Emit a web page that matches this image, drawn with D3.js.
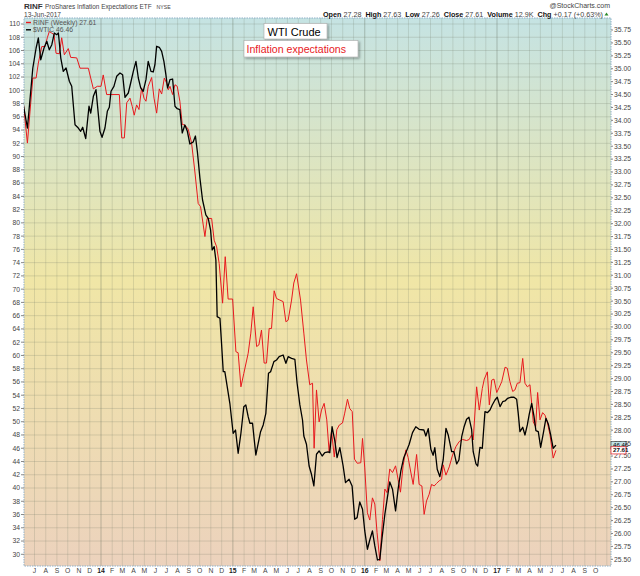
<!DOCTYPE html>
<html><head><meta charset="utf-8">
<script src="https://cdn.jsdelivr.net/npm/d3@7/dist/d3.min.js"></script>
<style>body{margin:0;background:#fff}svg{display:block;font-family:"Liberation Sans",Arial,sans-serif}</style>
</head><body>
<script>
// ---- data (dates as decimal years) ----
const wticDates = [
2013.411,2013.442,2013.483,2013.508,2013.525,2013.543,2013.568,2013.589,2013.608,2013.627,
2013.646,2013.664,2013.677,2013.695,2013.714,2013.735,2013.760,2013.778,2013.803,2013.828,
2013.846,2013.861,2013.884,2013.909,2013.922,2013.942,2013.962,2013.980,2013.992,2014.008,
2014.030,2014.048,2014.063,2014.076,2014.098,2014.119,2014.144,2014.164,2014.182,2014.207,
2014.225,2014.245,2014.265,2014.283,2014.301,2014.320,2014.341,2014.358,2014.379,2014.396,
2014.409,2014.422,2014.442,2014.460,2014.477,2014.492,2014.505,2014.523,2014.543,2014.561,
2014.578,2014.598,2014.616,2014.636,2014.654,2014.674,2014.699,2014.716,2014.731,2014.750,
2014.770,2014.795,2014.813,2014.831,2014.843,2014.858,2014.871,2014.881,2014.902,2014.914,
2014.927,2014.939,2014.957,2014.977,2015.002,2015.020,2015.040,2015.061,2015.083,2015.098,
2015.116,2015.129,2015.149,2015.174,2015.192,2015.210,2015.230,2015.250,2015.270,2015.286,
2015.311,2015.331,2015.351,2015.381,2015.402,2015.419,2015.445,2015.470,2015.487,2015.508,
2015.528,2015.538,2015.558,2015.578,2015.596,2015.614,2015.634,2015.654,2015.677,2015.697,
2015.722,2015.735,2015.752,2015.773,2015.790,2015.811,2015.836,2015.854,2015.881,2015.904,
2015.924,2015.942,2015.962,2015.983,2016.000,2016.020,2016.038,2016.058,2016.076,2016.096,
2016.114,2016.131,2016.152,2016.169,2016.189,2016.210,2016.233,2016.252,2016.273,2016.295,
2016.316,2016.336,2016.361,2016.386,2016.411,2016.447,2016.462,2016.480,2016.500,2016.517,
2016.530,2016.548,2016.568,2016.593,2016.614,2016.631,2016.657,2016.674,2016.695,2016.712,
2016.733,2016.750,2016.770,2016.788,2016.808,2016.820,2016.841,2016.854,2016.871,2016.889,
2016.909,2016.927,2016.947,2016.964,2016.985,2017.002,2017.023,2017.043,2017.061,2017.081,
2017.104,2017.129,2017.149,2017.161,2017.174,2017.195,2017.212,2017.230,2017.245,2017.263,
2017.280,2017.295,2017.313,2017.331,2017.351,2017.371,2017.389,2017.407,2017.426,2017.447];
const wticValues = [
97.83,94.31,103.36,106.38,107.89,104.61,106.38,107.39,106.12,106.88,
108.64,108.39,108.64,104.87,102.86,103.36,101.36,100.60,94.81,94.31,
93.81,94.42,92.70,97.59,96.57,99.09,100.09,96.32,93.81,92.91,
94.31,96.83,97.43,99.85,100.60,102.11,102.61,102.35,98.94,99.59,
101.10,102.86,104.37,101.85,100.35,99.85,101.60,104.37,102.86,102.76,
103.86,106.64,106.49,105.88,104.37,102.35,100.35,101.60,101.70,97.59,
97.22,97.07,93.56,94.76,93.86,91.90,92.20,93.10,90.69,86.77,
83.45,81.19,80.69,78.92,75.91,76.41,74.40,65.85,65.60,61.83,
57.55,57.55,55.29,52.78,48.26,48.75,45.24,48.26,52.27,52.53,
50.76,49.77,49.77,44.98,46.75,48.50,49.51,51.27,57.31,57.55,
59.06,59.31,59.81,60.07,58.82,59.81,59.57,59.42,55.80,52.53,
50.26,47.85,46.60,43.32,42.07,40.31,45.09,45.59,44.83,45.33,
45.44,45.33,49.25,47.10,44.58,46.08,43.32,40.81,41.32,40.31,
35.28,35.53,37.89,36.79,33.52,30.76,32.16,33.52,31.26,29.14,
29.25,32.51,36.04,38.30,40.91,39.81,36.54,39.81,42.57,44.58,
45.59,46.60,48.35,49.25,48.86,48.75,47.85,48.95,45.84,44.94,
46.08,42.83,41.71,44.23,49.01,48.00,45.48,45.48,43.63,44.23,
47.74,49.16,50.37,50.67,48.86,45.48,43.63,43.32,46.14,45.99,
51.52,51.36,51.77,52.53,53.28,53.69,52.27,53.02,53.13,53.54,
53.69,53.69,53.39,51.27,48.50,49.16,48.00,49.51,51.17,52.78,
50.87,48.65,48.50,46.14,48.26,50.52,49.66,48.00,45.99,46.46];
const rinfDates = [
2013.411,2013.442,2013.462,2013.483,2013.508,2013.525,2013.551,2013.576,2013.593,2013.608,
2013.627,2013.644,2013.659,2013.684,2013.702,2013.722,2013.752,2013.770,2013.816,2013.841,
2013.904,2013.942,2013.972,2014.000,2014.017,2014.043,2014.139,2014.157,2014.177,2014.195,
2014.220,2014.237,2014.252,2014.270,2014.288,2014.308,2014.326,2014.341,2014.358,2014.384,
2014.402,2014.422,2014.442,2014.460,2014.480,2014.498,2014.510,2014.523,2014.543,2014.561,
2014.578,2014.598,2014.616,2014.636,2014.661,2014.687,2014.712,2014.737,2014.755,2014.788,
2014.805,2014.839,2014.858,2014.877,2014.896,2014.922,2014.942,2014.964,2014.998,2015.023,
2015.040,2015.061,2015.083,2015.116,2015.136,2015.154,2015.180,2015.197,2015.217,2015.237,
2015.255,2015.275,2015.293,2015.313,2015.331,2015.356,2015.381,2015.402,2015.419,2015.445,
2015.462,2015.483,2015.513,2015.538,2015.558,2015.583,2015.604,2015.616,2015.634,2015.654,
2015.672,2015.692,2015.712,2015.730,2015.748,2015.769,2015.788,2015.807,2015.831,2015.848,
2015.869,2015.886,2015.905,2015.922,2015.943,2015.970,2015.983,2016.000,2016.020,2016.038,
2016.058,2016.076,2016.093,2016.114,2016.134,2016.152,2016.169,2016.189,2016.210,2016.233,
2016.252,2016.270,2016.290,2016.311,2016.328,2016.348,2016.366,2016.392,2016.411,2016.432,
2016.449,2016.467,2016.487,2016.505,2016.525,2016.543,2016.563,2016.581,2016.593,2016.614,
2016.639,2016.664,2016.689,2016.714,2016.740,2016.770,2016.790,2016.808,2016.820,2016.846,
2016.866,2016.889,2016.904,2016.927,2016.942,2016.960,2016.977,2016.998,2017.017,2017.036,
2017.061,2017.078,2017.098,2017.119,2017.136,2017.154,2017.174,2017.195,2017.212,2017.230,
2017.250,2017.263,2017.275,2017.293,2017.308,2017.326,2017.346,2017.364,2017.381,2017.402,
2017.426,2017.447];
const rinfValues = [
34.34,33.56,34.18,34.82,34.82,35.11,35.43,35.43,35.60,35.72,
35.69,35.66,35.30,35.29,35.60,35.27,35.39,35.22,35.21,35.01,
35.01,34.61,34.66,34.66,34.88,34.50,34.50,33.66,33.66,34.34,
34.43,34.27,34.10,34.30,34.21,34.63,34.43,34.37,34.66,34.83,
34.43,34.14,34.61,34.51,34.82,34.72,34.59,34.66,34.50,34.69,
34.66,34.37,33.92,33.91,33.83,33.56,33.00,32.39,32.33,31.75,
32.10,32.10,31.68,31.55,31.23,30.46,31.36,30.54,30.54,29.52,
29.50,28.84,29.10,29.49,29.88,30.39,29.62,29.65,29.94,29.30,
29.30,29.97,29.97,30.70,30.55,30.52,30.49,30.10,30.13,30.52,
30.85,31.03,30.52,29.88,29.36,28.88,28.91,27.65,28.78,28.16,
28.39,28.52,28.20,27.58,27.99,27.48,28.01,28.10,28.14,28.33,
28.60,28.42,28.36,27.44,27.36,27.37,27.84,27.27,26.40,26.26,
26.69,26.57,26.02,25.47,26.27,26.86,26.79,27.25,27.18,27.31,
27.05,26.80,27.31,27.62,27.47,27.19,26.95,27.53,26.95,26.92,
26.37,26.63,26.76,26.95,26.92,26.97,27.02,27.05,27.33,27.13,
27.29,27.52,27.68,27.78,27.82,27.80,27.82,27.91,27.81,28.84,
28.39,28.81,28.99,29.13,28.49,28.97,28.99,28.73,28.83,28.94,
29.22,29.20,28.94,28.75,28.78,28.91,28.92,29.39,28.91,28.84,
28.88,28.52,28.16,28.07,28.73,28.20,28.34,28.29,28.16,27.91,
27.46,27.61];
const leftTicks = [30,32,34,36,38,40,42,44,46,48,50,52,54,56,58,60,62,64,66,68,70,72,74,76,78,80,82,84,86,88,90,92,94,96,98,100,102,104,106,108,110];
const rightTicks = [25.50,25.75,26.00,26.25,26.50,26.75,27.00,27.25,27.50,27.75,28.00,28.25,28.50,28.75,29.00,29.25,29.50,29.75,30.00,30.25,30.50,30.75,31.00,31.25,31.50,31.75,32.00,32.25,32.50,32.75,33.00,33.25,33.50,33.75,34.00,34.25,34.50,34.75,35.00,35.25,35.50,35.75];
const monthLetters = ["J","F","M","A","M","J","J","A","S","O","N","D"];
const lastWtic = 46.46, lastRinf = 27.61;

const toDate = d => { const y = Math.floor(d); const s = new Date(y,0,1), e = new Date(y+1,0,1); return new Date(+s + (d - y) * (e - s)); };

const W = 640, H = 576;
const L = 24, R = 611, T = 18, B = 566;
const svg = d3.select("body").append("svg").attr("width", W).attr("height", H);

const x = d3.scaleTime().domain([new Date(2014,0,1), new Date(2017,0,1)]).range([101, 497]);
const yL = d3.scaleLinear().domain([30, 110]).range([554.3, 24]);
const yR = d3.scaleLinear().domain([25.5, 35.75]).range([559.3, 30]);

const defs = svg.append("defs");
const g = defs.append("linearGradient").attr("id","bg").attr("x1",0).attr("y1",0).attr("x2",0).attr("y2",1);
g.append("stop").attr("offset","0%").attr("stop-color","#c5e3e3");
g.append("stop").attr("offset","48%").attr("stop-color","#f0e6a6");
g.append("stop").attr("offset","100%").attr("stop-color","#ecd2bd");
defs.append("clipPath").attr("id","clip").append("rect").attr("x",L).attr("y",T).attr("width",R-L).attr("height",B-T);
const sh = defs.append("filter").attr("id","shadow").attr("x","-10%").attr("y","-20%").attr("width","130%").attr("height","160%");
sh.append("feDropShadow").attr("dx",1.5).attr("dy",1.5).attr("stdDeviation",1).attr("flood-color","#000").attr("flood-opacity",0.35);

svg.append("rect").attr("x",L).attr("y",T).attr("width",R-L).attr("height",B-T).attr("fill","url(#bg)");

// grid
const months = d3.timeMonth.range(new Date(2013,5,1), new Date(2017,11,1)).filter(d => x(d) > L && x(d) < R);
const grid = svg.append("g");
grid.selectAll("line.v").data(months).join("line")
  .attr("x1", d => x(d)).attr("x2", d => x(d)).attr("y1", T).attr("y2", B)
  .attr("stroke", d => d.getMonth() === 0 ? "rgba(90,100,80,0.35)" : "rgba(110,120,100,0.2)").attr("stroke-width", 1);
grid.selectAll("line.h").data(leftTicks).join("line")
  .attr("x1", L).attr("x2", R).attr("y1", d => yL(d)).attr("y2", d => yL(d))
  .attr("stroke", "rgba(110,120,100,0.22)").attr("stroke-width", 1);

// border
svg.append("rect").attr("x",L).attr("y",T).attr("width",R-L).attr("height",B-T)
  .attr("fill","none").attr("stroke","#8fb0c8").attr("stroke-width",1).attr("stroke-dasharray","1.5,1");

// axes labels
const ax = svg.append("g").attr("font-size", 6.8).attr("fill", "#444");
ax.selectAll("text.l").data(leftTicks).join("text")
  .attr("x", 20).attr("y", d => yL(d) + 2.4).attr("text-anchor","end").text(d => d);
ax.selectAll("line.l").data(leftTicks).join("line")
  .attr("x1", 21).attr("x2", L).attr("y1", d => yL(d)).attr("y2", d => yL(d)).attr("stroke","#888");
ax.selectAll("text.r").data(rightTicks).join("text")
  .attr("x", 614).attr("y", d => yR(d) + 2.4).text(d => d.toFixed(2));
ax.selectAll("line.r").data(rightTicks).join("line")
  .attr("x1", R).attr("x2", R+2).attr("y1", d => yR(d)).attr("y2", d => yR(d)).attr("stroke","#888");
const mlab = d3.timeMonth.range(new Date(2013,6,1), new Date(2017,10,1));
ax.selectAll("text.m").data(mlab).join("text")
  .attr("x", d => x(d)).attr("y", 573).attr("text-anchor","middle")
  .attr("font-weight", d => d.getMonth() === 0 ? "bold" : "normal")
  .attr("fill", d => d.getMonth() === 0 ? "#222" : "#444")
  .text(d => d.getMonth() === 0 ? String(d.getFullYear()).slice(2) : monthLetters[d.getMonth()]);

// series
const wtic = wticDates.map((d,i) => ({t: toDate(d), v: wticValues[i]}));
const rinf = rinfDates.map((d,i) => ({t: toDate(d), v: rinfValues[i]}));
const plot = svg.append("g").attr("clip-path","url(#clip)");
plot.append("path").datum(rinf).attr("fill","none").attr("stroke","#e8191e").attr("stroke-width",1)
  .attr("stroke-linejoin","round").attr("d", d3.line().x(d => x(d.t)).y(d => yR(d.v)));
plot.append("path").datum(wtic).attr("fill","none").attr("stroke","#000").attr("stroke-width",1.3)
  .attr("stroke-linejoin","round").attr("d", d3.line().x(d => x(d.t)).y(d => yL(d.v)));

// last value markers
const mk = svg.append("g").attr("font-size", 6.2);
mk.append("rect").attr("x", 611).attr("y", yL(lastWtic) - 3.6).attr("width", 15).attr("height", 7.2)
  .attr("fill","#bfe2e6").attr("stroke","#333").attr("stroke-width",0.6);
mk.append("text").attr("x", 613).attr("y", yL(lastWtic) + 2.1).attr("fill","#000").text(lastWtic.toFixed(2));
mk.append("rect").attr("x", 611).attr("y", yR(lastRinf) - 3.6).attr("width", 15).attr("height", 7.2)
  .attr("fill","#fff").attr("stroke","#e8191e").attr("stroke-width",0.7);
mk.append("text").attr("x", 613).attr("y", yR(lastRinf) + 2.1).attr("fill","#111").attr("font-weight","bold").text(lastRinf.toFixed(2));

// legend
const lg = svg.append("g").attr("font-size", 6.8).attr("fill", "#555");
lg.append("line").attr("x1",26).attr("x2",31).attr("y1",22.5).attr("y2",22.5).attr("stroke","#e8191e").attr("stroke-width",1.4);
lg.append("text").attr("x",33).attr("y",24.8).text("RINF (Weekly) 27.61");
lg.append("line").attr("x1",26).attr("x2",31).attr("y1",29.8).attr("y2",29.8).attr("stroke","#000").attr("stroke-width",1.4);
lg.append("text").attr("x",33).attr("y",32.3).text("$WTIC 46.46");

// header
const hd = svg.append("g").attr("fill","#444");
hd.append("text").attr("x",24).attr("y",9).attr("font-size",8).attr("font-weight","bold").attr("fill","#333").text("RINF");
const ttl = hd.append("text").attr("x",45).attr("y",9).attr("font-size",6.4).text("ProShares Inflation Expectations ETF");
const tEnd = 45 + ttl.node().getComputedTextLength();
hd.append("text").attr("x",tEnd + 5).attr("y",9).attr("font-size",5.2).text("NYSE");
hd.append("text").attr("x",24).attr("y",16.5).attr("font-size",6.6).text("13-Jun-2017");
hd.append("text").attr("x",610).attr("y",8).attr("font-size",7).attr("text-anchor","end").text("@StockCharts.com");
const st = hd.append("text").attr("x",603).attr("y",16.5).attr("font-size",7.2).attr("text-anchor","end").attr("fill","#222");
[["Open",true],[" 27.28  ",false],["High",true],[" 27.63  ",false],["Low",true],[" 27.26  ",false],["Close",true],[" 27.61  ",false],["Volume",true],[" 12.9K  ",false],["Chg",true],[" +0.17 (+0.63%)",false]]
  .forEach(([s,b]) => st.append("tspan").attr("font-weight", b ? "bold" : "normal").attr("fill", b ? "#111" : "#444").attr("xml:space","preserve").text(s));
hd.append("path").attr("d","M604.5,15.5 L606.5,12.5 L608.5,15.5 Z").attr("fill","#2a8a2a");

// annotation boxes
const a1 = svg.append("g");
a1.append("rect").attr("x",264).attr("y",23.5).attr("width",63).attr("height",15.5).attr("fill","#fff").attr("stroke","#aaa").attr("stroke-width",0.6).attr("filter","url(#shadow)");
a1.append("text").attr("x",267.5).attr("y",35.5).attr("font-size",11).attr("fill","#000").text("WTI Crude");
a1.append("rect").attr("x",244).attr("y",40.5).attr("width",114).attr("height",16.5).attr("fill","#fff").attr("stroke","#aaa").attr("stroke-width",0.6).attr("filter","url(#shadow)");
a1.append("text").attr("x",246.5).attr("y",53).attr("font-size",10.6).attr("fill","#e8191e").text("Inflation expectations");
</script>
</body></html>
